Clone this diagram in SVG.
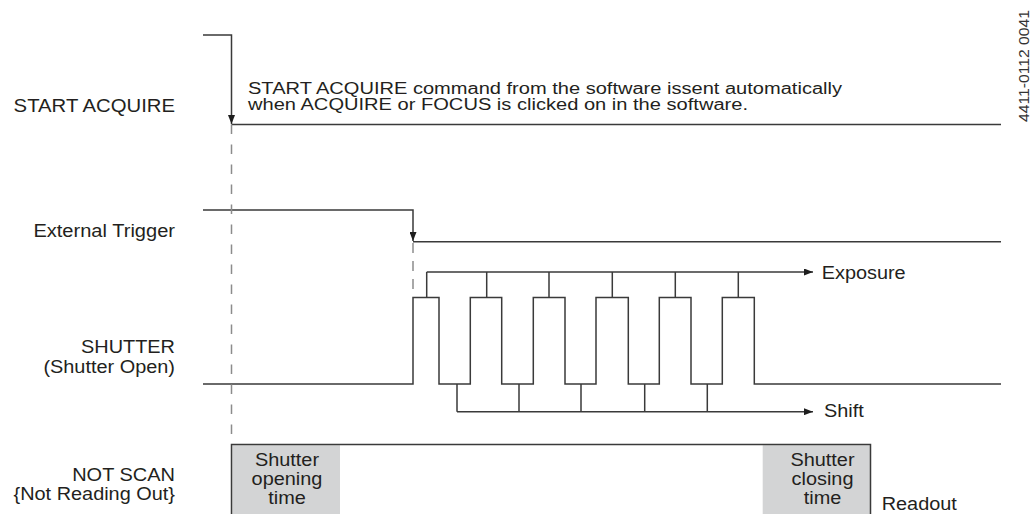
<svg xmlns="http://www.w3.org/2000/svg" width="1031" height="514" viewBox="0 0 1031 514">
<defs>
<marker id="ah" markerUnits="userSpaceOnUse" markerWidth="10" markerHeight="7" refX="9" refY="3.5" orient="auto"><path d="M0,0 L9,3.5 L0,7 z" fill="#1e1e1e"/></marker>
</defs>
<style>
.t{font-family:'Liberation Sans',Arial,Helvetica,sans-serif;font-size:17.5px;fill:#231f20}
.r{text-anchor:end}
.m{text-anchor:middle}
.w{fill:none;stroke:#3a3a3a;stroke-width:1.5}
.d{fill:none;stroke:#8c8c8c;stroke-width:1.5}
.box{fill:#d3d4d5}
</style>
<rect width="1031" height="514" fill="#ffffff"/>

<g id="start-acquire">
<text class="t r" x="175" y="112" textLength="161.4" lengthAdjust="spacingAndGlyphs">START ACQUIRE</text>
<path class="w" d="M231.5,124.5 H1001"/>
<text class="t" style="font-size:16px" x="248" y="94" textLength="594" lengthAdjust="spacingAndGlyphs">START ACQUIRE command from the software issent automatically</text>
<text class="t" style="font-size:16px" x="248" y="110" textLength="500" lengthAdjust="spacingAndGlyphs">when ACQUIRE or FOCUS is clicked on in the software.</text>
</g>

<g id="external-trigger">
<text class="t r" x="175" y="236.7" textLength="141.6" lengthAdjust="spacingAndGlyphs">External Trigger</text>
<path class="w" d="M413,241.7 H1001"/>
</g>

<g id="shutter">
<text class="t r" x="175" y="353.3" textLength="94" lengthAdjust="spacingAndGlyphs">SHUTTER</text>
<text class="t r" x="175" y="373.3" textLength="131.6" lengthAdjust="spacingAndGlyphs">(Shutter Open)</text>
<path class="w" d="M203,384 H413 V297.5 H439 V384 H470.3 V297.5 H501.7 V384 H533.3 V297.5 H565 V384 H596 V297.5 H628.3 V384 H659.3 V297.5 H691 V384 H722.3 V297.5 H754.3 V384 H1001"/>
</g>

<g id="exposure">
<text class="t" x="821.7" y="279.3" textLength="84" lengthAdjust="spacingAndGlyphs">Exposure</text>
</g>

<g id="shift">
<text class="t" x="824" y="416.7" textLength="39.8" lengthAdjust="spacingAndGlyphs">Shift</text>
</g>

<g id="not-scan">
<text class="t r" x="175" y="481" textLength="102.8" lengthAdjust="spacingAndGlyphs">NOT SCAN</text>
<text class="t r" x="175" y="500" textLength="161.5" lengthAdjust="spacingAndGlyphs">{Not Reading Out}</text>
<rect class="box" x="232.2" y="445.2" width="107.8" height="69"/>
<rect class="box" x="762.7" y="445.2" width="107.3" height="69"/>
<path class="w" d="M231.5,514 V444.5 H870.5 V514"/>
<text class="t" x="881.7" y="510" textLength="75.2" lengthAdjust="spacingAndGlyphs">Readout</text>
</g>

<g id="shutter-opening-time">
<text class="t m" x="287" y="466" textLength="64.2" lengthAdjust="spacingAndGlyphs">Shutter</text>
<text class="t m" x="287" y="485" textLength="70.8" lengthAdjust="spacingAndGlyphs">opening</text>
<text class="t m" x="287" y="503.5" textLength="37.6" lengthAdjust="spacingAndGlyphs">time</text>
</g>

<g id="shutter-closing-time">
<text class="t m" x="822.5" y="466" textLength="64.2" lengthAdjust="spacingAndGlyphs">Shutter</text>
<text class="t m" x="822.5" y="485" textLength="61.9" lengthAdjust="spacingAndGlyphs">closing</text>
<text class="t m" x="822.5" y="503.5" textLength="37.6" lengthAdjust="spacingAndGlyphs">time</text>
</g>

<g id="connectors">
<path class="w" d="M203,35 H231.5 V124" marker-end="url(#ah)"/>
<path class="w" d="M203,210 H413 V241" marker-end="url(#ah)"/>
<path class="d" d="M231.5,124.5 V443" stroke-dasharray="9.5 10.5"/>
<path class="d" d="M413,243 V297" stroke-dasharray="10 8"/>
<path class="w" d="M426.7,272 H813" marker-end="url(#ah)"/>
<path class="w" d="M426.7,272 V297.5 M486.7,272 V297.5 M549,272 V297.5 M612.3,272 V297.5 M675.3,272 V297.5 M738.3,272 V297.5"/>
<path class="w" d="M457,411.7 H813" marker-end="url(#ah)"/>
<path class="w" d="M457,384 V411.7 M519,384 V411.7 M581,384 V411.7 M644.7,384 V411.7 M707.3,384 V411.7"/>
</g>

<text class="t" style="font-size:14px;fill:#333" transform="translate(1028.5,122) rotate(-90)" x="0" y="0" textLength="112" lengthAdjust="spacingAndGlyphs">4411-0112 0041</text>
</svg>
